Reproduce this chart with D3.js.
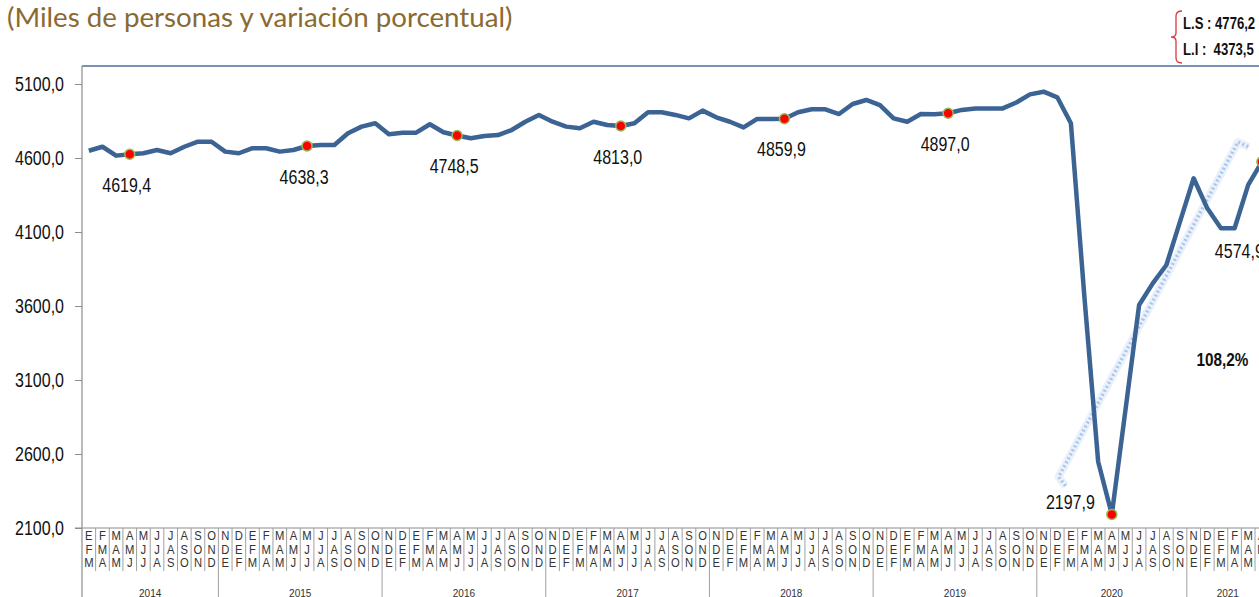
<!DOCTYPE html>
<html lang="es">
<head>
<meta charset="UTF-8">
<title>Población ocupada - Lima Metropolitana</title>
<style>
  body { margin: 0; background: #fff; }
  svg { display: block; font-family: "Liberation Sans Narrow", "Arial Narrow", "Liberation Sans", Arial, sans-serif; }
</style>
</head>
<body>
<svg width="1259" height="597"></svg>
<script src="https://cdn.jsdelivr.net/npm/d3@7"></script>
<script>
// ---- data ----
var title = "(Miles de personas y variación porcentual)";
var monthLetters = ["E","F","M","A","M","J","J","A","S","O","N","D"];
var years = ["2014","2015","2016","2017","2018","2019","2020","2021"];
var yearColumns = [10, 12, 12, 12, 12, 12, 11, 6];
var yearStartMonth = [0, 10, 10, 10, 10, 10, 10, 10];

var values = [
  4649, 4676, 4616, 4625, 4632, 4654, 4632, 4676, 4710, 4710,
  4643, 4632, 4666, 4666, 4643, 4654, 4681, 4688, 4688, 4767, 4812, 4835,
  4760, 4771, 4771, 4828, 4774, 4752, 4733, 4749, 4755, 4789, 4845, 4891,
  4845, 4812, 4801, 4845, 4823, 4816, 4835, 4909, 4909, 4891, 4868, 4920,
  4875, 4845, 4807, 4864, 4864, 4865, 4909, 4929, 4929, 4897, 4965, 4992,
  4958, 4868, 4845, 4897, 4895, 4902, 4925, 4935, 4935, 4935, 4975, 5030,
  5048, 5010, 4835, 3650, 2548, 2192, 2897, 3607, 3753, 3877, 4170,
  4463, 4260, 4125, 4125, 4418, 4575
];
var markerIndex = [3, 16, 27, 39, 51, 63, 75, 86];
var markerLabels = ["4619,4", "4638,3", "4748,5", "4813,0", "4859,9", "4897,0", "2197,9", "4574,9"];
var yTicks = [2100, 2600, 3100, 3600, 4100, 4600, 5100];
var legendLines = ["L.S : 4776,2", "L.I :  4373,5"];
var growthLabel = "108,2%";
var growthAt = [83.1, 3235];
// dotted trend bracket, in (column, value) units
var trendPoints = [[71.6, 2384], [71.1, 2445], [84.25, 4708], [85.05, 4674]];

// ---- layout ----
var svg = d3.select("svg");
var left = 82, colW = 13.64, axisY = 528, frameTop = 66;
var narrow = 0.8;   // no narrow font installed: squeeze text horizontally

var categories = [];
years.forEach(function(yr, k) {
  for (var j = 0; j < yearColumns[k]; j++) {
    var m = (yearStartMonth[k] + j) % 12;
    categories.push({ year: yr, first: j === 0,
      letters: [monthLetters[m], monthLetters[(m + 1) % 12], monthLetters[(m + 2) % 12]] });
  }
});

var x = d3.scaleLinear()
    .domain([-0.5, categories.length - 0.5])
    .range([left, left + colW * categories.length]);
var y = d3.scaleLinear().domain([2100, 5100]).range([axisY, 84]);

var fmt = function(v) { return d3.format(".1f")(v).replace(".", ","); };

function narrowText(g, px, py, s, size, sx) {
  return g.append("text")
      .attr("transform", "translate(" + px + "," + py + ") scale(" + (sx || narrow) + ",1)")
      .attr("dominant-baseline", "central")
      .style("font-size", size + "px")
      .attr("fill", "#111")
      .text(s);
}

// title
svg.append("text")
    .attr("x", 7).attr("y", 27)
    .style("font-family", "Lato, 'Open Sans', sans-serif")
    .style("font-size", "27.7px")
    .attr("fill", "#8a6a32")
    .text(title);

// frame top line
svg.append("line")
    .attr("x1", left).attr("x2", 1259)
    .attr("y1", frameTop).attr("y2", frameTop)
    .attr("stroke", "#4d6f9b").attr("stroke-width", 1.5);

// y axis
var yAxis = svg.append("g")
    .attr("transform", "translate(" + left + ",0)")
    .call(d3.axisLeft(y).tickValues(yTicks).tickSize(7).tickPadding(11).tickFormat(fmt));
yAxis.select(".domain").remove();
yAxis.selectAll(".tick line").attr("stroke", "#8c8c8c");
yAxis.selectAll(".tick text")
    .attr("x", -18 / narrow)
    .attr("transform", "scale(" + narrow + ",1)")
    .style("font-size", "20px")
    .attr("fill", "#111");

svg.append("line")
    .attr("x1", left).attr("x2", left)
    .attr("y1", frameTop).attr("y2", 597)
    .attr("stroke", "#8c8c8c").attr("stroke-width", 1.2);

// x axis line
svg.append("line")
    .attr("x1", left - 7).attr("x2", 1259)
    .attr("y1", axisY).attr("y2", axisY)
    .attr("stroke", "#8c8c8c").attr("stroke-width", 1.2);

// column separators & letters
var xg = svg.append("g");
xg.selectAll(".sep")
    .data(categories.slice(1))
    .enter().append("line")
    .attr("x1", function(d, i) { return x(i + 0.5); })
    .attr("x2", function(d, i) { return x(i + 0.5); })
    .attr("y1", axisY)
    .attr("y2", function(d) { return d.first ? 597 : 571; })
    .attr("stroke", "#a0a0a0").attr("stroke-width", 1);

categories.forEach(function(c, i) {
  c.letters.forEach(function(l, r) {
    narrowText(xg, x(i), 536 + r * 13.5, l, 12.5, 0.9)
        .attr("text-anchor", "middle")
        .attr("fill", "#333");
  });
});

// year labels
var start = 0;
years.forEach(function(yr, k) {
  var mid = start + yearColumns[k] / 2 - 0.5;
  xg.append("text")
      .attr("x", x(mid)).attr("y", 597)
      .attr("text-anchor", "middle")
      .style("font-size", "10px")
      .attr("fill", "#333")
      .text(yr);
  start += yearColumns[k];
});

// dotted trend bracket
var trendLine = d3.line().x(function(d) { return x(d[0]); }).y(function(d) { return y(d[1]); });
svg.append("path")
    .attr("d", trendLine(trendPoints))
    .attr("fill", "none")
    .attr("stroke", "#e6eef9").attr("stroke-width", 8).attr("opacity", 0.8)
    .attr("stroke-linejoin", "round");
svg.append("path")
    .attr("d", trendLine(trendPoints))
    .attr("fill", "none")
    .attr("stroke", "#a9c7ec").attr("stroke-width", 3.5)
    .attr("stroke-dasharray", "2,2.5").attr("stroke-linecap", "butt");

// main line
var line = d3.line().x(function(d, i) { return x(i); }).y(function(d) { return y(d); });
svg.append("path")
    .datum(values)
    .attr("d", line)
    .attr("fill", "none")
    .attr("stroke", "#3b6393")
    .attr("stroke-width", 4.5)
    .attr("stroke-linejoin", "round");

// markers
svg.selectAll(".mk")
    .data(markerIndex)
    .enter().append("circle")
    .attr("cx", function(d) { return x(d); })
    .attr("cy", function(d) { return y(values[d]); })
    .attr("r", 5)
    .attr("fill", "#ff0000")
    .attr("stroke", "#9bbb59").attr("stroke-width", 1.5);

// marker labels
markerIndex.forEach(function(idx, k) {
  var px = x(idx), py = y(values[idx]);
  if (k < 6) {
    narrowText(svg, px - 3, py + 31, markerLabels[k], 20).attr("text-anchor", "middle");
  } else if (k === 6) {
    narrowText(svg, px - 17, py - 12, markerLabels[k], 20).attr("text-anchor", "end");
  } else {
    narrowText(svg, px - 47, py + 90, markerLabels[k], 20).attr("text-anchor", "start");
  }
});

// growth label
narrowText(svg, x(growthAt[0]), y(growthAt[1]), growthLabel, 18, 0.85)
    .attr("text-anchor", "middle")
    .style("font-weight", "bold");

// legend with bracket
svg.append("path")
    .attr("d", "M1182,11 Q1176,11 1176,16 L1176,33 Q1176,37 1171,37 Q1176,37 1176,41 L1176,58 Q1176,63 1182,63")
    .attr("fill", "none").attr("stroke", "#d9383a").attr("stroke-width", 1.3);
legendLines.forEach(function(s, i) {
  narrowText(svg, 1183, 24 + i * 26, s, 16, 0.82)
      .style("font-weight", "bold")
      .style("white-space", "pre");
});
</script>
</body>
</html>
